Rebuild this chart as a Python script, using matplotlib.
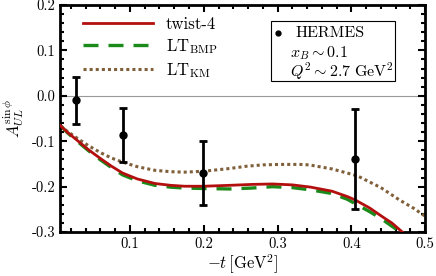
#!/usr/bin/env python3

import matplotlib as mpl
mpl.use('Agg')
import matplotlib.pyplot as plt
from matplotlib.ticker import MultipleLocator

# HERMES data
t_data = [0.027, 0.091, 0.199, 0.405]
a_data = [-0.010, -0.086, -0.170, -0.139]
a_err = [0.052, 0.060, 0.071, 0.110]

# twist-4 curve
t_tw4 = [0.006, 0.015, 0.03, 0.044, 0.06, 0.075, 0.09, 0.11, 0.134, 0.155,
         0.174, 0.2, 0.235, 0.265, 0.293, 0.32, 0.345, 0.374, 0.395, 0.405,
         0.425, 0.442, 0.455, 0.465, 0.475]
a_tw4 = [-0.066, -0.080, -0.100, -0.119, -0.138, -0.155, -0.170, -0.183, -0.193, -0.197,
         -0.199, -0.199, -0.197, -0.195, -0.194, -0.196, -0.201, -0.210, -0.222, -0.229,
         -0.247, -0.266, -0.280, -0.294, -0.308]

# LT_BMP curve
t_bmp = [0.006, 0.015, 0.03, 0.044, 0.06, 0.075, 0.09, 0.11, 0.134, 0.155,
         0.174, 0.2, 0.235, 0.265, 0.293, 0.32, 0.345, 0.374, 0.395, 0.408,
         0.425, 0.442, 0.455, 0.465, 0.475]
a_bmp = [-0.066, -0.081, -0.102, -0.121, -0.141, -0.158, -0.174, -0.187, -0.197, -0.201,
         -0.203, -0.204, -0.205, -0.203, -0.200, -0.202, -0.207, -0.215, -0.228, -0.240,
         -0.255, -0.272, -0.287, -0.298, -0.310]

# LT_KM curve
t_km = [0.006, 0.015, 0.03, 0.044, 0.06, 0.075, 0.09, 0.11, 0.134, 0.155,
        0.174, 0.2, 0.235, 0.258, 0.28, 0.303, 0.33, 0.343, 0.374, 0.408,
        0.44, 0.465, 0.485, 0.5]
a_km = [-0.066, -0.078, -0.095, -0.110, -0.125, -0.137, -0.146, -0.156, -0.164, -0.167,
        -0.168, -0.166, -0.160, -0.155, -0.152, -0.151, -0.151, -0.152, -0.161, -0.176,
        -0.202, -0.229, -0.248, -0.265]


def main():
    mpl.rcParams.update({'font.family': 'serif',
                         'font.serif': ['cmr10', 'DejaVu Serif'],
                         'mathtext.fontset': 'cm',
                         'axes.formatter.use_mathtext': True,
                         'font.size': 11})

    fig = plt.figure(figsize=(4.36, 2.76), dpi=100)
    ax = fig.subplots()
    fig.subplots_adjust(left=0.138, right=0.975, top=0.982, bottom=0.159)

    ax.axhline(0.0, color='#999999', lw=0.8, zorder=1)

    ax.plot(t_tw4, a_tw4, color='#b40f0f', lw=2.0, label='twist-4', zorder=3)
    ax.plot(t_bmp, a_bmp, color='#1a8a1a', lw=2.4, ls=(0, (4.5, 3)),
            label=r'LT$_{\rm BMP}$', zorder=2)
    ax.plot(t_km, a_km, color='#80603a', lw=2.2, ls=(0, (1, 1)),
            label=r'LT$_{\rm KM}$', zorder=2)

    ax.errorbar(t_data, a_data, yerr=a_err, fmt='o', color='k', ms=5,
                elinewidth=2, capsize=3, capthick=2, zorder=4)

    ax.set_xlim(0.0054, 0.5)
    ax.set_ylim(-0.3, 0.2)
    ax.xaxis.set_major_locator(MultipleLocator(0.1))
    ax.xaxis.set_minor_locator(MultipleLocator(0.02))
    ax.yaxis.set_major_locator(MultipleLocator(0.1))
    ax.yaxis.set_minor_locator(MultipleLocator(0.02))
    ax.yaxis.set_major_formatter(mpl.ticker.FormatStrFormatter('%.1f'))
    ax.xaxis.set_major_formatter(mpl.ticker.FuncFormatter(lambda v, p: '%.1f' % v))
    ax.tick_params(which='both', direction='in', top=True, right=True,
                   width=1.5, labelsize=10.5)
    ax.tick_params(which='major', length=5)
    ax.tick_params(which='minor', length=3)
    for s in ax.spines.values():
        s.set_linewidth(2)

    ax.set_xlabel(r'$-t\,[\mathrm{GeV}^2]$', fontsize=12, labelpad=1)
    ax.set_ylabel(r'$A_{UL}^{\sin\phi}$', fontsize=12, labelpad=4)

    ax.legend(loc='upper left', frameon=False, fontsize=12, handlelength=4.2,
              borderaxespad=0.3, labelspacing=0.3, bbox_to_anchor=(0.03, 1.0))

    # HERMES box
    box = mpl.patches.Rectangle((0.578, 0.665), 0.34, 0.265, transform=ax.transAxes,
                                fill=False, lw=0.8, ec='k', zorder=5)
    ax.add_patch(box)
    ax.plot([0.598], [0.875], 'o', color='k', ms=3.5, transform=ax.transAxes)
    ax.text(0.645, 0.875, 'HERMES', transform=ax.transAxes, fontsize=11.5, va='center')
    ax.text(0.63, 0.79, r'$x_B \sim 0.1$', transform=ax.transAxes, fontsize=11.5, va='center')
    ax.text(0.63, 0.71, r'$Q^2 \sim 2.7\ \mathrm{GeV}^2$', transform=ax.transAxes,
            fontsize=11.5, va='center')

    fig.savefig('out.png', dpi=100)


if __name__ == "__main__":
    main()
